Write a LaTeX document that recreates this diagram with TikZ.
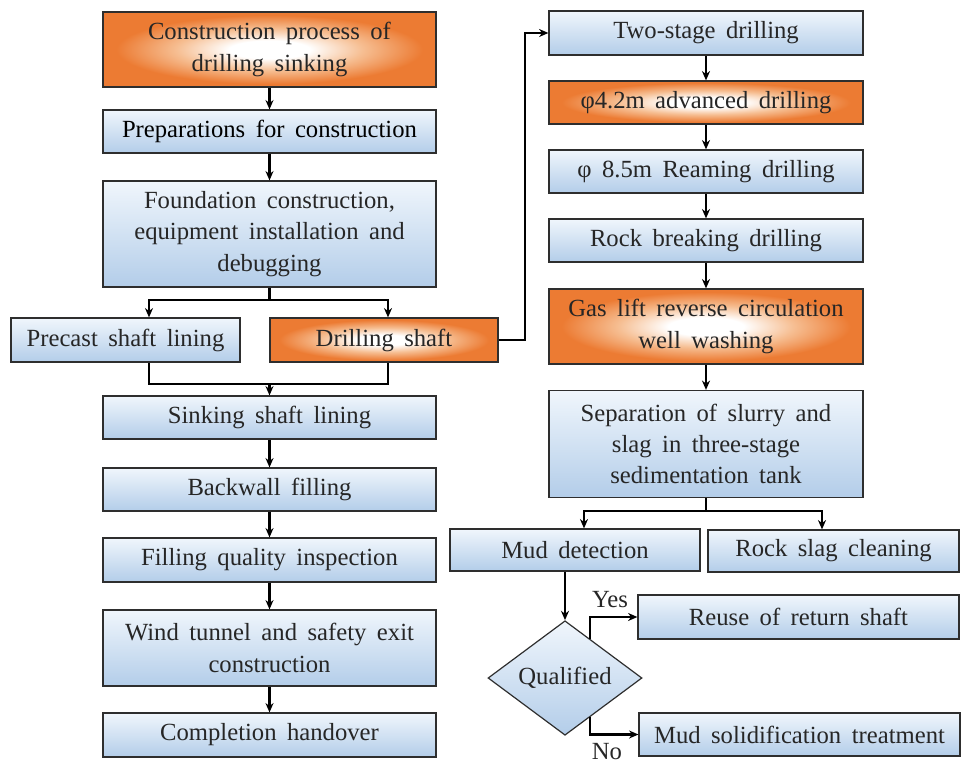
\documentclass[tikz,border=0pt]{standalone}
\usepackage{fontspec}
\setmainfont{Liberation Serif}[WordSpace=1.7]
\newfontfamily\tnr{Liberation Serif}[WordSpace=1.7]
\usetikzlibrary{calc,shapes.geometric,arrows.meta}
\definecolor{myorange}{HTML}{EC7B33}
\definecolor{orlight}{HTML}{F6BE92}
\definecolor{bluetop}{HTML}{F0F6FC}
\definecolor{bluebot}{HTML}{B3CDE9}
\definecolor{txt}{HTML}{262626}
\definecolor{edge}{HTML}{2E2E2E}
\pgfdeclareradialshading{orglow}{\pgfpoint{0bp}{0bp}}{color(0bp)=(white); color(6bp)=(white); color(14bp)=(orlight); color(23bp)=(myorange); color(25bp)=(myorange); color(50bp)=(myorange)}
\tikzset{
  base/.style={draw=edge, line width=0.9pt, inner sep=0pt, align=center, text=txt,
    font=\tnr\fontsize{18.5}{23.5}\selectfont},
  bluebox/.style={base, top color=bluetop, bottom color=bluebot},
  orbox/.style={base, shading=orglow},
  sz/.style 2 args={minimum width=#1*0.75pt, minimum height=#2*0.75pt},
  conn/.style={line width=1.6pt, draw=black},
  arr/.style={conn, -{Stealth[length=7pt,width=6pt]}},
  lbl/.style={text=txt, font=\tnr\fontsize{18.5}{23.5}\selectfont, inner sep=0pt}
}
\begin{document}
\begin{tikzpicture}[x=0.75pt,y=-0.75pt]
\useasboundingbox (0,0) rectangle (968,763);
% left column
\node[orbox, sz={333}{75}] (B1) at (269.5,49.5) {Construction process of\\drilling sinking};
\node[bluebox, sz={333}{43}, text=black] (B2) at (269.5,131.5) {Preparations for construction};
\node[bluebox, sz={333}{106}] (B3) at (269.5,234) {Foundation construction,\\equipment installation and\\debugging};
\node[bluebox, sz={229}{44}] (B4) at (125.5,340) {Precast shaft lining};
\node[orbox, sz={228}{44}] (B5) at (384,340) {Drilling shaft};
\node[bluebox, sz={333}{43}] (B6) at (269.5,417.5) {Sinking shaft lining};
\node[bluebox, sz={333}{43}] (B7) at (269.5,489.5) {Backwall filling};
\node[bluebox, sz={333}{44}] (B8) at (269.5,560) {Filling quality inspection};
\node[bluebox, sz={333}{76}] (B9) at (269.5,648) {Wind tunnel and safety exit\\construction};
\node[bluebox, sz={333}{44}] (B10) at (269.5,735) {Completion handover};
% right column
\node[bluebox, sz={314}{44}] (R1) at (706,33) {Two-stage drilling};
\node[orbox, sz={314}{43}] (R2) at (706,102.5) {φ4.2m advanced drilling};
\node[bluebox, sz={314}{43}] (R3) at (706,171.5) {φ 8.5m Reaming drilling};
\node[bluebox, sz={314}{43}] (R4) at (706,240.5) {Rock breaking drilling};
\node[orbox, sz={314}{75}] (R5) at (706,326.5) {Gas lift reverse circulation\\well washing};
\node[bluebox, sz={314}{107}] (R6) at (706,444) {Separation of slurry and\\slag in three-stage\\sedimentation tank};
\node[bluebox, sz={250}{42}] (R7) at (575,550) {Mud detection};
\node[bluebox, sz={251}{42}] (R8) at (833.5,551) {Rock slag cleaning};
\node[bluebox, sz={321}{44}] (R9) at (798.5,617) {Reuse of return shaft};
\node[bluebox, sz={321}{43}] (R10) at (799.5,734.5) {Mud solidification treatment};
\node[bluebox, diamond, sz={154}{77}] (D) at (565,678) {Qualified};
% junction coordinates
\coordinate (j1) at (269.5,300);
\coordinate (j2) at (269.5,384);
\coordinate (j3) at (706,511);
% left connectors
\draw[arr] (B1) -- (B2);
\draw[arr] (B2) -- (B3);
\draw[conn] (B3.south) -- (j1);
\draw[arr] (j1) -| ($(B4.north)+(23.5,0)$);
\draw[arr] (j1) -| ($(B5.north)+(4,0)$);
\draw[conn] ($(B4.south)+(23.5,0)$) |- (j2) -| ($(B5.south)+(4,0)$);
\draw[arr] (j2) -- (B6.north);
\draw[arr] (B6) -- (B7);
\draw[arr] (B7) -- (B8);
\draw[arr] (B8) -- (B9);
\draw[arr] (B9) -- (B10);
% link to right column
\draw[arr] (B5.east) -- ++(26,0) |- (R1.west);
% right connectors
\draw[arr] (R1) -- (R2);
\draw[arr] (R2) -- (R3);
\draw[arr] (R3) -- (R4);
\draw[arr] (R4) -- (R5);
\draw[arr] (R5) -- (R6);
\draw[conn] (R6.south) -- (j3);
\draw[arr] (j3) -| ($(R7.north)+(9,0)$);
\draw[arr] (j3) -| ($(R8.north)+(-11.5,0)$);
\draw[arr] ($(R7.south)+(-10,0)$) -- (D.north);
\draw[arr] ($(D.north)!0.325!(D.east)$) |- (R9.west);
\draw[arr] ($(D.south)!0.325!(D.east)$) |- (R10.west);
\node[lbl] (yes) at (610,600) {Yes};
\node[lbl, anchor=south] (no) at (607,760) {No};
\end{tikzpicture}
\end{document}
